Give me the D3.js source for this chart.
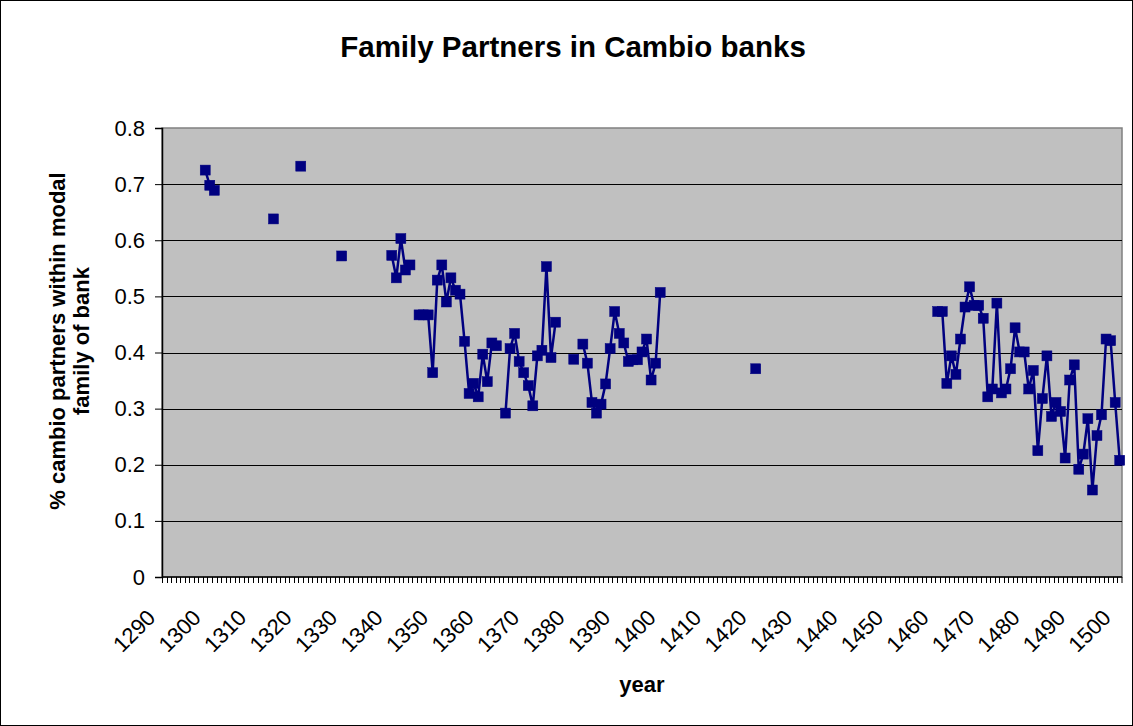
<!DOCTYPE html>
<html>
<head>
<meta charset="utf-8">
<script src="https://cdn.jsdelivr.net/npm/d3@7/dist/d3.min.js"></script>
<style>
  html, body { margin: 0; padding: 0; background: #fff; }
  svg { display: block; font-family: "Liberation Sans", Arial, sans-serif; }
</style>
</head>
<body>
<svg id="chart" width="1133" height="726"></svg>
<script>
'use strict';

// Years that have an observation, and the share for each one.
var years = [
  1299, 1300, 1301, 1314, 1320, 1329,
  1340, 1341, 1342, 1343, 1344, 1346, 1347, 1348, 1349,
  1350, 1351, 1352, 1353, 1354, 1355, 1356, 1357, 1358, 1359,
  1360, 1361, 1362, 1363, 1365, 1366, 1367, 1368, 1369,
  1370, 1371, 1372, 1373, 1374, 1375, 1376,
  1380, 1382, 1383, 1384, 1385, 1386, 1387, 1388, 1389,
  1390, 1391, 1392, 1393, 1394, 1395, 1396, 1397, 1398, 1399,
  1420,
  1460, 1461, 1462, 1463, 1464, 1465, 1466, 1467, 1468, 1469,
  1470, 1471, 1472, 1473, 1474, 1475, 1476, 1477, 1478, 1479,
  1480, 1481, 1482, 1483, 1484, 1485, 1486, 1487, 1488, 1489,
  1490, 1491, 1492, 1493, 1494, 1495, 1496, 1497, 1498, 1499,
  1500
];
var shares = [
  0.725, 0.698, 0.689, 0.638, 0.732, 0.572,
  0.573, 0.533, 0.603, 0.547, 0.556, 0.467, 0.467, 0.467, 0.364,
  0.529, 0.556, 0.490, 0.533, 0.511, 0.504, 0.420, 0.327, 0.345, 0.321,
  0.397, 0.348, 0.417, 0.412, 0.292, 0.407, 0.434, 0.384, 0.364,
  0.341, 0.305, 0.394, 0.404, 0.553, 0.391, 0.454,
  0.388, 0.415, 0.381, 0.311, 0.292, 0.308, 0.344, 0.407, 0.473,
  0.434, 0.417, 0.384, 0.387, 0.387, 0.401, 0.424, 0.351, 0.381, 0.507,
  0.371,
  0.473, 0.473, 0.345, 0.394, 0.361, 0.424, 0.481, 0.517, 0.484, 0.484,
  0.461, 0.321, 0.335, 0.488, 0.328, 0.335, 0.371, 0.444, 0.401, 0.401,
  0.335, 0.368, 0.225, 0.318, 0.394, 0.286, 0.311, 0.295, 0.212, 0.351,
  0.378, 0.192, 0.219, 0.282, 0.155, 0.252, 0.289, 0.424, 0.421, 0.311,
  0.208
];
// Category axis runs over every year, labelled once a decade.
var firstYear = 1290,
    lastYear = 1500;
var xLabels = d3.range(1290, 1501, 10);
var yTicks = [0, 0.1, 0.2, 0.3, 0.4, 0.5, 0.6, 0.7, 0.8];

var svg = d3.select('#chart'),
    width = 1133,
    height = 726,
    plot = {left: 162, right: 1122, top: 128, bottom: 577},
    tickFont = 22;

var allYears = d3.range(firstYear, lastYear + 1);
var byYear = new Map(years.map(function(y, i) { return [y, shares[i]]; }));
var series = allYears.map(function(y) {
  return {year: y, value: byYear.has(y) ? byYear.get(y) : null};
});

var x = d3.scaleBand()
  .domain(allYears)
  .range([plot.left, plot.right])
  .padding(0);
var y = d3.scaleLinear()
  .domain([0, 0.8])
  .range([plot.bottom, plot.top]);
var cx = function(yr) { return x(yr) + x.bandwidth() / 2; };

// Outer frame of the chart area.
svg.append('rect')
  .attr('x', 0.5).attr('y', 0.5)
  .attr('width', width - 1).attr('height', height - 1)
  .attr('fill', '#fff')
  .attr('stroke', '#000');

// Plot area.
svg.append('rect')
  .attr('x', plot.left).attr('y', plot.top)
  .attr('width', plot.right - plot.left)
  .attr('height', plot.bottom - plot.top)
  .attr('fill', '#c0c0c0')
  .attr('stroke', '#808080')
  .attr('stroke-width', 1.5);

// Horizontal gridlines.
svg.append('g')
  .selectAll('line')
  .data(yTicks.filter(function(d) { return d > 0 && d < 0.8; }))
  .enter().append('line')
  .attr('x1', plot.left).attr('x2', plot.right)
  .attr('y1', function(d) { return Math.round(y(d)) + 0.5; })
  .attr('y2', function(d) { return Math.round(y(d)) + 0.5; })
  .attr('stroke', '#000')
  .attr('stroke-width', 1);

// Y axis.
var yAxis = svg.append('g')
  .attr('transform', 'translate(' + plot.left + ',0)')
  .call(d3.axisLeft(y)
    .tickValues(yTicks)
    .tickSize(7)
    .tickPadding(10)
    .tickFormat(function(d) { return d === 0 ? '0' : d.toFixed(1); }));
yAxis.select('.domain').attr('stroke', '#000').attr('stroke-width', 1.5);
yAxis.selectAll('.tick line').attr('stroke', '#000');
yAxis.selectAll('.tick text')
  .attr('font-size', tickFont)
  .attr('fill', '#000')
  .style('font-family', '"Liberation Sans", Arial, sans-serif');

// X axis: a tick between every year.
var xAxis = svg.append('g');
xAxis.append('line')
  .attr('x1', plot.left).attr('x2', plot.right)
  .attr('y1', plot.bottom).attr('y2', plot.bottom)
  .attr('stroke', '#000')
  .attr('stroke-width', 1.5);
xAxis.selectAll('line.tick')
  .data(allYears.concat([lastYear + 1]))
  .enter().append('line')
  .attr('class', 'tick')
  .attr('x1', function(d) {
    return d > lastYear ? plot.right : Math.round(x(d)) + 0.5;
  })
  .attr('x2', function(d) {
    return d > lastYear ? plot.right : Math.round(x(d)) + 0.5;
  })
  .attr('y1', plot.bottom)
  .attr('y2', plot.bottom + 6)
  .attr('stroke', '#000')
  .attr('stroke-width', 1);
xAxis.selectAll('text')
  .data(xLabels)
  .enter().append('text')
  .attr('transform', function(d) {
    return 'translate(' + (cx(d) - 7.5) + ',' + 619 + ') rotate(-45)';
  })
  .attr('text-anchor', 'end')
  .attr('font-size', tickFont)
  .attr('fill', '#000')
  .text(function(d) { return d; });

// Data line, broken wherever a year is missing.
var line = d3.line()
  .defined(function(d) { return d.value !== null; })
  .x(function(d) { return cx(d.year); })
  .y(function(d) { return y(d.value); });

svg.append('path')
  .datum(series)
  .attr('d', line)
  .attr('fill', 'none')
  .attr('stroke', '#000080')
  .attr('stroke-width', 2.5)
  .attr('stroke-linejoin', 'round');

var marker = 10;
svg.append('g')
  .selectAll('rect')
  .data(series.filter(function(d) { return d.value !== null; }))
  .enter().append('rect')
  .attr('x', function(d) { return cx(d.year) - marker / 2; })
  .attr('y', function(d) { return y(d.value) - marker / 2; })
  .attr('width', marker)
  .attr('height', marker)
  .attr('fill', '#000080')
  .attr('stroke', '#000080')
  .attr('stroke-width', 0.5);

// Titles.
svg.append('text')
  .attr('x', 573).attr('y', 57)
  .attr('text-anchor', 'middle')
  .attr('font-size', 29.5)
  .attr('font-weight', 'bold')
  .text('Family Partners in Cambio banks');

svg.append('text')
  .attr('x', 642).attr('y', 692)
  .attr('text-anchor', 'middle')
  .attr('font-size', 22)
  .attr('font-weight', 'bold')
  .text('year');

var yTitle = svg.append('text')
  .attr('transform', 'translate(65,341) rotate(-90)')
  .attr('text-anchor', 'middle')
  .attr('font-size', 22)
  .attr('font-weight', 'bold');
yTitle.append('tspan')
  .attr('x', 0).attr('dy', 0)
  .text('% cambio partners within modal');
yTitle.append('tspan')
  .attr('x', 0).attr('dy', 24)
  .text('family of bank');
</script>
</body>
</html>
